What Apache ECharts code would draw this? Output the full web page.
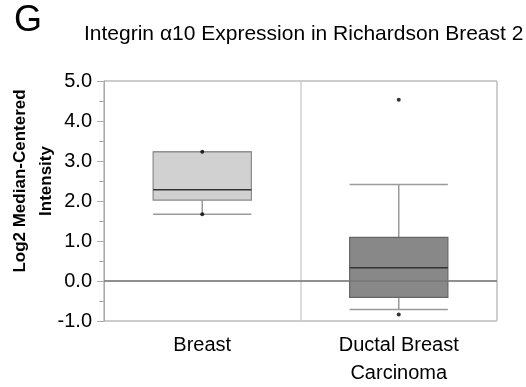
<!DOCTYPE html>
<html>
<head>
<meta charset="utf-8">
<script src="https://cdn.jsdelivr.net/npm/echarts@6/dist/echarts.min.js"></script>
<style>html,body{margin:0;padding:0;background:#fff}#c{width:526px;height:387px}</style>
</head>
<body>
<div id="c"></div>
<script>
// ---- data ----
const categories = ['Breast', 'Ductal Breast\nCarcinoma'];
const whiskerLow = [1.67, -0.71];
const q1 = [2.02, -0.41];
const median = [2.28, 0.33];
const q3 = [3.23, 1.09];
const whiskerHigh = [3.23, 2.41];
const boxFill = ['#d1d1d1', '#888888'];
const pointCat = [0, 0, 1, 1];
const pointVal = [3.23, 1.67, 4.53, -0.84];
const yTicks = [-1, 0, 1, 2, 3, 4, 5];

const FONT = '"Liberation Sans", Arial, sans-serif';
const chart = echarts.init(document.getElementById('c'), null, {renderer: 'canvas'});

const boxData = categories.map((c, i) => [i, whiskerLow[i], q1[i], median[i], q3[i], whiskerHigh[i]]);

function renderBox(params, api) {
  const i = api.value(0);
  const band = api.size([1, 0])[0];
  const half = band * 0.25;
  const cx = api.coord([i, 0])[0];
  const yLo = api.coord([i, api.value(1)])[1];
  const yQ1 = api.coord([i, api.value(2)])[1];
  const yMed = api.coord([i, api.value(3)])[1];
  const yQ3 = api.coord([i, api.value(4)])[1];
  const yHi = api.coord([i, api.value(5)])[1];
  const wStyle = {stroke: '#9a9a9a', lineWidth: 1.5};
  return {
    type: 'group',
    children: [
      {type: 'line', shape: {x1: cx, y1: yQ1, x2: cx, y2: yLo}, style: wStyle},
      {type: 'line', shape: {x1: cx, y1: yQ3, x2: cx, y2: yHi}, style: wStyle},
      {type: 'line', shape: {x1: cx - half, y1: yLo, x2: cx + half, y2: yLo}, style: wStyle},
      {type: 'line', shape: {x1: cx - half, y1: yHi, x2: cx + half, y2: yHi}, style: wStyle},
      {type: 'rect', shape: {x: cx - half, y: yQ3, width: half * 2, height: yQ1 - yQ3},
        style: {fill: boxFill[i], stroke: i === 0 ? '#8a8a8a' : '#666', lineWidth: 1.2}},
      {type: 'line', shape: {x1: cx - half, y1: yMed, x2: cx + half, y2: yMed},
        style: {stroke: '#333', lineWidth: 1.6}}
    ]
  };
}

chart.setOption({
  animation: false,
  backgroundColor: '#fff',
  title: {
    text: 'Integrin α10 Expression in Richardson Breast 2',
    left: 79, top: 19,
    textStyle: {fontFamily: FONT, fontSize: 21, fontWeight: 'normal', color: '#000'}
  },
  graphic: [
    {type: 'text', left: 14, top: 3, style: {text: 'G', fontFamily: FONT, fontSize: 36, fill: '#000'}},
    {type: 'text', x: 33, y: 181, rotation: Math.PI / 2,
      style: {text: 'Log2 Median-Centered\nIntensity', fontFamily: FONT, fontSize: 17, fontWeight: 'bold',
        fill: '#000', align: 'center', verticalAlign: 'middle', lineHeight: 26}}
  ],
  grid: {left: 104, right: 29, top: 81, bottom: 60, show: true, borderColor: '#999', borderWidth: 1},
  xAxis: {
    type: 'category', data: categories, boundaryGap: true,
    axisLine: {lineStyle: {color: '#cfcfcf', width: 1.5}},
    axisTick: {show: false},
    splitLine: {show: true, lineStyle: {color: '#cfcfcf', width: 1.5}},
    axisLabel: {fontFamily: FONT, fontSize: 20, color: '#000', lineHeight: 28, margin: 10, interval: 0}
  },
  yAxis: {
    type: 'value', min: yTicks[0], max: yTicks[yTicks.length - 1], interval: 1,
    axisLine: {show: true, lineStyle: {color: '#aaa', width: 1}},
    axisTick: {show: true, length: 7, lineStyle: {color: '#aaa'}},
    minorTick: {show: true, splitNumber: 2, length: 5, lineStyle: {color: '#aaa'}},
    splitLine: {show: false},
    axisLabel: {fontFamily: FONT, fontSize: 20, color: '#000', margin: 12, formatter: v => v.toFixed(1)}
  },
  series: [
    {type: 'custom', renderItem: renderBox, data: boxData, encode: {x: 0, y: [1, 2, 3, 4, 5]}, z: 2},
    {type: 'scatter', data: pointCat.map((c, k) => [c, pointVal[k]]), symbolSize: 4,
      itemStyle: {color: '#000'}, z: 4,
      markLine: {silent: true, symbol: 'none', label: {show: false},
        lineStyle: {color: '#777', width: 1.5, type: 'solid'}, data: [{yAxis: 0}]}}
  ]
});
</script>
</body>
</html>
